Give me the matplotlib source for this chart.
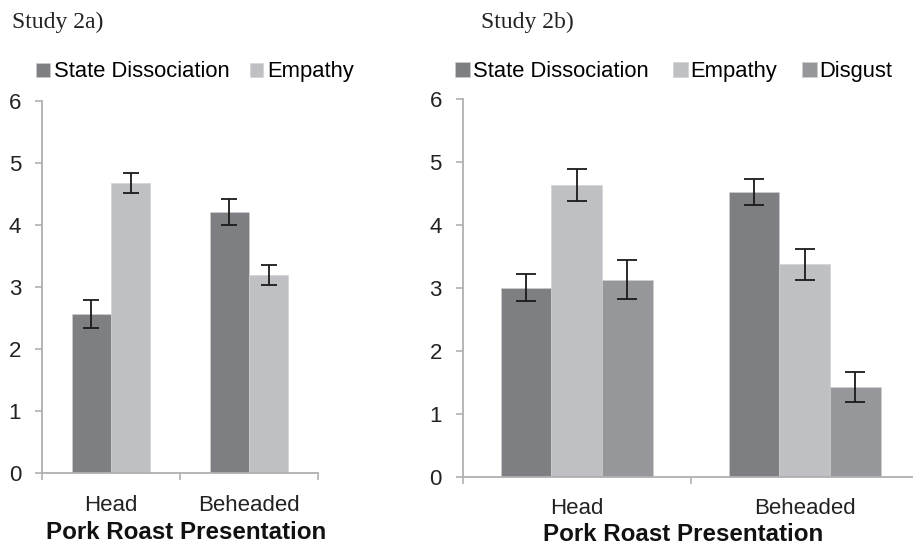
import matplotlib.pyplot as plt
import numpy as np

plt.rcParams['font.family'] = ['Liberation Sans', 'DejaVu Sans']

categories = ["Head", "Beheaded"]

# Study 2a
a_series = ["State Dissociation", "Empathy"]
a_means = [[2.56, 4.21], [4.68, 3.20]]
a_errs = [[0.23, 0.205], [0.155, 0.16]]

# Study 2b
b_series = ["State Dissociation", "Empathy", "Disgust"]
b_means = [[3.00, 4.52], [4.63, 3.37], [3.13, 1.42]]
b_errs = [[0.215, 0.21], [0.26, 0.245], [0.31, 0.24]]

colors = ["#7e7f83", "#bfc0c3", "#96979b"]
axis_col = "#b0b0b3"


def draw_panel(ax, series, means, errs, width, capsize, title, title_y,
               legend_anchor, colspace, handlelen, textpad, tickpad, labelpad, label_x):
    n = len(series)
    centers = np.arange(len(categories)) + 0.5
    for i, name in enumerate(series):
        x = centers + (i - (n - 1) / 2) * width
        ax.bar(x, means[i], width=width, color=colors[i], edgecolor="#d0d0d2",
               linewidth=0.4, label=name, zorder=2)
        ax.errorbar(x, means[i], yerr=errs[i], fmt="none", ecolor="#1a1a1a",
                    elinewidth=1.3, capsize=capsize, capthick=1.3, zorder=3)

    ax.set_xlim(0, len(categories))
    ax.set_ylim(0, 6)
    ax.set_yticks(range(0, 7))
    ax.set_xticks(range(0, len(categories) + 1))
    ax.set_xticklabels([])
    ax.set_xticks(centers, minor=True)
    ax.set_xticklabels(categories, minor=True)
    ax.tick_params(axis="x", which="major", length=5, direction="out", color=axis_col, width=1.2)
    ax.tick_params(axis="x", which="minor", length=0, pad=tickpad, labelsize=16, labelcolor="#222222")
    ax.tick_params(axis="y", length=5, direction="out", color=axis_col, width=1.2,
                   labelsize=16, labelcolor="#222222", pad=10)
    for side in ["top", "right"]:
        ax.spines[side].set_visible(False)
    for side in ["left", "bottom"]:
        ax.spines[side].set_color(axis_col)
        ax.spines[side].set_linewidth(1.3)
    ax.set_xlabel("Pork Roast Presentation", fontsize=17.4, fontweight="bold",
                  color="#111111", labelpad=labelpad)
    ax.xaxis.label.set_x(label_x)

    ax.legend(loc="center left", bbox_to_anchor=legend_anchor, ncol=n, frameon=False,
              fontsize=15.8, handlelength=handlelen, handleheight=handlelen,
              handletextpad=textpad, columnspacing=colspace, borderaxespad=0, borderpad=0)
    return ax.text(0, title_y, title, transform=ax.transAxes, family="Liberation Serif",
                   fontsize=17, color="#222222", va="center", ha="left")


fig = plt.figure(figsize=(9.13, 5.45), dpi=100)

ax1 = fig.add_axes([42 / 913, 72.3 / 545, 276 / 913, 371.4 / 545])
t1 = draw_panel(ax1, a_series, a_means, a_errs, width=0.283, capsize=6,
                title="Study 2a)", title_y=1.2135, legend_anchor=(-0.02, 1.079),
                colspace=0.95, handlelen=0.6, textpad=0.18, tickpad=15.8, labelpad=4.2,
                label_x=0.524)
t1.set_x(-0.108)

ax2 = fig.add_axes([462.7 / 913, 68.3 / 545, 456 / 913, 378 / 545])
t2 = draw_panel(ax2, b_series, b_means, b_errs, width=0.222, capsize=7,
                title="Study 2b)", title_y=1.203, legend_anchor=(-0.016, 1.071),
                colspace=1.12, handlelen=0.68, textpad=0.12, tickpad=15.1, labelpad=3.1,
                label_x=0.483)
t2.set_x(0.04)

fig.savefig("out.png", dpi=100)
